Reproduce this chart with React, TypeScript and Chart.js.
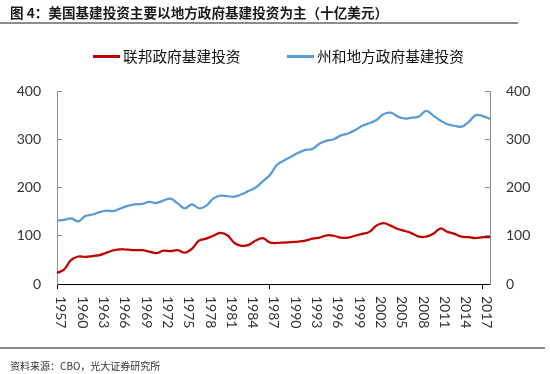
import React, { useEffect, useRef } from "react";
import { Chart, registerables } from "chart.js";

Chart.register(...registerables);

const years = [
  "1957", "1958", "1959", "1960", "1961", "1962", "1963", "1964", "1965", "1966",
  "1967", "1968", "1969", "1970", "1971", "1972", "1973", "1974", "1975", "1976",
  "1977", "1978", "1979", "1980", "1981", "1982", "1983", "1984", "1985", "1986",
  "1987", "1988", "1989", "1990", "1991", "1992", "1993", "1994", "1995", "1996",
  "1997", "1998", "1999", "2000", "2001", "2002", "2003", "2004", "2005", "2006",
  "2007", "2008", "2009", "2010", "2011", "2012", "2013", "2014", "2015", "2016",
  "2017", "2018",
];

const federal = [
  23, 30, 50, 57, 56, 58, 60, 65, 70, 72,
  71, 70, 70, 67, 64, 69, 68, 70, 65, 73,
  90, 94, 100, 106, 101, 85, 79, 81, 90, 95,
  86, 85, 86, 87, 88, 90, 94, 96, 101, 100,
  96, 96, 100, 104, 108, 121, 126, 121, 114, 110,
  105, 98, 98, 104, 115, 108, 104, 98, 97, 95,
  97, 97,
];

const stateLocal = [
  131, 133, 136, 130, 141, 144, 149, 152, 151, 157,
  162, 165, 166, 170, 168, 173, 177, 167, 157, 165,
  157, 162, 177, 183, 182, 181, 186, 193, 200, 213,
  226, 247, 256, 264, 272, 278, 280, 291, 297, 300,
  308, 312, 319, 328, 333, 340, 352, 355, 347, 343,
  345, 347, 359, 349, 339, 331, 328, 326, 336, 350,
  348, 342,
];

const seriesNames = ["联邦政府基建投资", "州和地方政府基建投资"];
const seriesColors = ["#C00000", "#5B9BD5"];
const yMin = 0;
const yMax = 400;
const yStep = 100;
const xLabelEvery = 3;
const xTickMarkEvery = 30;

const titleText = "图 4：美国基建投资主要以地方政府基建投资为主（十亿美元）";
const sourceText = "资料来源：CBO，光大证券研究所";

const CJK = '"Noto Sans CJK SC", "Noto Sans", sans-serif';
const NUM = 'Lato, "Liberation Sans", sans-serif';

const xLabelPlugin = {
  id: "xRotatedLabels",
  afterDraw(chart: any) {
    const scale = chart.scales.x;
    const ctx = chart.ctx;
    ctx.save();
    ctx.font = "14px " + NUM;
    ctx.fillStyle = "#333333";
    ctx.textAlign = "left";
    ctx.textBaseline = "middle";
    years.forEach((label, i) => {
      if (i % xLabelEvery !== 0) return;
      const x = scale.getPixelForTick(i);
      ctx.save();
      ctx.translate(x + 4, scale.top + 12);
      ctx.rotate(Math.PI / 2);
      ctx.fillText(label, 0, 0);
      ctx.restore();
    });
    ctx.restore();
  },
};

export default function App() {
  const canvasRef = useRef<HTMLCanvasElement | null>(null);

  useEffect(() => {
    if (!canvasRef.current) return;
    const chart = new Chart(canvasRef.current, {
      type: "line",
      data: {
        labels: years,
        datasets: [
          {
            label: seriesNames[0],
            data: federal,
            borderColor: seriesColors[0],
            backgroundColor: seriesColors[0],
            borderWidth: 2.25,
            pointRadius: 0,
            tension: 0.4,
            yAxisID: "y",
          },
          {
            label: seriesNames[1],
            data: stateLocal,
            borderColor: seriesColors[1],
            backgroundColor: seriesColors[1],
            borderWidth: 2.25,
            pointRadius: 0,
            tension: 0.4,
            yAxisID: "y",
          },
        ],
      },
      options: {
        responsive: false,
        animation: false,
        devicePixelRatio: 1,
        layout: { padding: { top: 91, left: 0, right: 0, bottom: 0 } },
        plugins: {
          legend: { display: false },
          tooltip: { enabled: false },
        },
        scales: {
          x: {
            type: "category",
            offset: false,
            afterFit: (s: any) => {
              s.height = 90;
            },
            border: { display: true, color: "#000000", width: 1 },
            grid: {
              drawOnChartArea: false,
              drawTicks: true,
              tickLength: 5,
              tickColor: (c: any) =>
                c.index % xTickMarkEvery === 0 ? "#000000" : "rgba(0,0,0,0)",
            },
            ticks: { display: false, autoSkip: false, maxRotation: 0 },
          },
          y: {
            position: "left",
            min: yMin,
            max: yMax,
            afterFit: (s: any) => {
              s.width = 57;
            },
            border: { display: true, color: "#8c8c8c", width: 1 },
            grid: {
              drawOnChartArea: false,
              drawTicks: true,
              tickLength: -5,
              tickColor: "#8c8c8c",
            },
            ticks: {
              stepSize: yStep,
              padding: 21,
              color: "#333333",
              font: { family: NUM, size: 14 },
            },
          },
          y1: {
            position: "right",
            min: yMin,
            max: yMax,
            afterFit: (s: any) => {
              s.width = 60;
            },
            border: { display: true, color: "#8c8c8c", width: 1 },
            grid: {
              drawOnChartArea: false,
              drawTicks: true,
              tickLength: -5,
              tickColor: "#8c8c8c",
            },
            ticks: {
              stepSize: yStep,
              padding: 21,
              color: "#333333",
              font: { family: NUM, size: 14 },
            },
          },
        },
      },
      plugins: [xLabelPlugin],
    } as any);
    return () => chart.destroy();
  }, []);

  return (
    <div
      style={{
        position: "absolute",
        left: 0,
        top: 0,
        width: 550,
        height: 374,
        background: "#ffffff",
        overflow: "hidden",
      }}
    >
      <canvas
        ref={canvasRef}
        width={550}
        height={374}
        style={{ position: "absolute", left: 0, top: 0, width: 550, height: 374 }}
      />
      <div
        style={{
          position: "absolute",
          left: 10,
          top: 3,
          fontFamily: CJK,
          fontSize: 13.6,
          fontWeight: 700,
          lineHeight: "18px",
          color: "#1a1a1a",
          whiteSpace: "nowrap",
        }}
      >
        {titleText}
      </div>
      <div
        style={{
          position: "absolute",
          left: 0,
          top: 22,
          width: 518,
          height: 1.5,
          background: "#8c8c8c",
        }}
      />
      {seriesNames.map((name, i) => (
        <React.Fragment key={name}>
          <div
            style={{
              position: "absolute",
              left: i === 0 ? 93 : 287,
              top: 55,
              width: 27,
              height: 2.5,
              background: seriesColors[i],
            }}
          />
          <div
            style={{
              position: "absolute",
              left: i === 0 ? 123 : 317,
              top: 46,
              fontFamily: CJK,
              fontSize: 14.7,
              lineHeight: "20px",
              color: "#111111",
              whiteSpace: "nowrap",
            }}
          >
            {name}
          </div>
        </React.Fragment>
      ))}
      <div
        style={{
          position: "absolute",
          left: 0,
          top: 347,
          width: 545,
          height: 1.5,
          background: "#8c8c8c",
        }}
      />
      <div
        style={{
          position: "absolute",
          left: 10,
          top: 359,
          fontFamily: CJK,
          fontSize: 10,
          lineHeight: "14px",
          color: "#333333",
          whiteSpace: "nowrap",
        }}
      >
        {sourceText}
      </div>
    </div>
  );
}
